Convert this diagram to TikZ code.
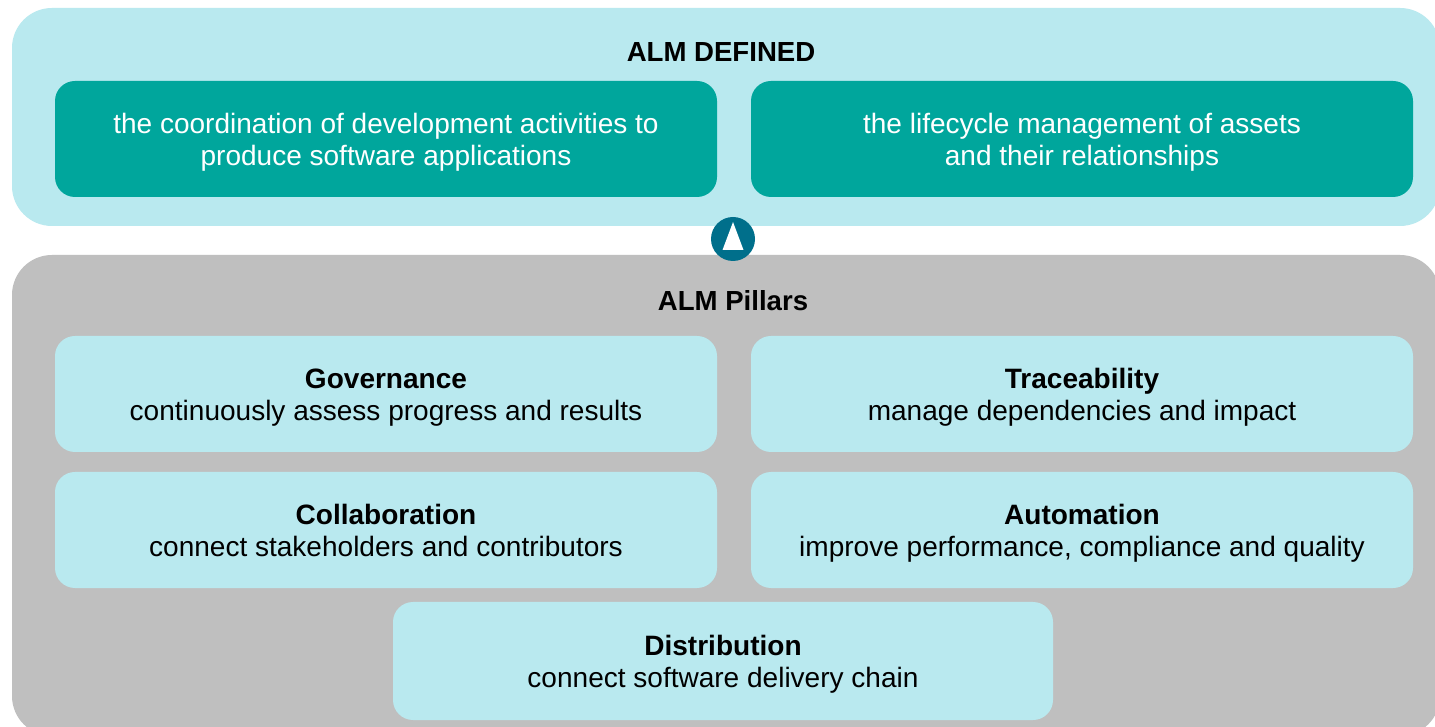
\documentclass[tikz,border=0pt]{standalone}
\usepackage{fontspec}
\setmainfont{Liberation Sans}
\definecolor{palecyan}{HTML}{B9E9EF}
\definecolor{tealbox}{HTML}{00A69C}
\definecolor{pillargray}{HTML}{BFBFBF}
\definecolor{arrowteal}{HTML}{006F8B}
\newcommand{\twolines}[2]{\rule{0pt}{17.6pt}#1\strut\\#2\strut}
\tikzset{
  panel/.style={fill=#1,draw=none,rounded corners=0.8cm},
  defbox/.style={rectangle,rounded corners=0.4cm,fill=tealbox,text=white,minimum width=13.24cm,minimum height=2.32cm,inner sep=0pt,align=center,font=\fontsize{15.95}{18.7}\selectfont},
  pillarbox/.style={defbox,fill=palecyan,text=black},
  heading/.style={font=\fontsize{15.7}{18.7}\selectfont\bfseries,text=black}
}
\begin{document}
\begin{tikzpicture}
\useasboundingbox (0,0) rectangle (28.7,14.52);
\clip (0,0) rectangle (28.7,14.52);
\fill[white] (0,0) rectangle (28.7,14.52);
\draw[panel=palecyan] (0.24,10) rectangle (28.8,14.36);
\draw[panel=pillargray] (0.24,-0.2) rectangle (28.8,9.42);
\node[heading] (defined) at (14.42,13.48) {ALM DEFINED};
\node[defbox] (coord) at (7.72,11.74) {\twolines{the coordination of development activities to}{produce software applications}};
\node[defbox] (life) at (21.64,11.74) {\twolines{the lifecycle management of assets}{and their relationships}};
\node[heading] (pillars) at (14.66,8.5) {ALM Pillars};
\node[pillarbox] (gov) at (7.72,6.64) {\twolines{\textbf{Governance}}{continuously assess progress and results}};
\node[pillarbox] (trace) at (21.64,6.64) {\twolines{\textbf{Traceability}}{manage dependencies and impact}};
\node[pillarbox] (collab) at (7.72,3.92) {\twolines{\textbf{Collaboration}}{connect stakeholders and contributors}};
\node[pillarbox] (auto) at (21.64,3.92) {\twolines{\textbf{Automation}}{improve performance, compliance and quality}};
\node[pillarbox,minimum width=13.2cm,minimum height=2.36cm] (dist) at (14.46,1.3) {\twolines{\textbf{Distribution}}{connect software delivery chain}};
\node[circle,fill=arrowteal,minimum size=0.88cm,inner sep=0pt] (up) at (14.66,9.74) {};
\fill[white] (14.66,10.08) -- (14.87,9.52) -- (14.45,9.52) -- cycle;
\end{tikzpicture}
\end{document}
